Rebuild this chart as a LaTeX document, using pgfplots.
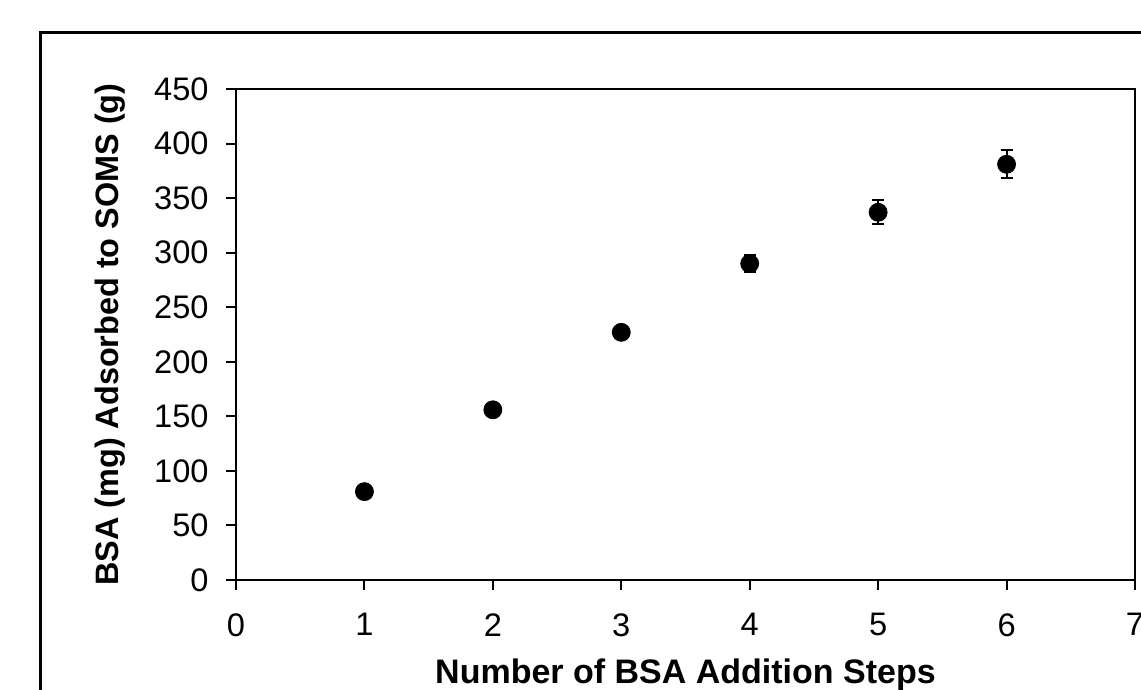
\documentclass[border=0pt]{standalone}
\usepackage{pgfplots}
\pgfplotsset{compat=1.18}
\usepackage{fontspec}
\setmainfont{Liberation Sans}
\begin{document}
\begin{tikzpicture}
\path[use as bounding box] (0pt,0pt) rectangle (570.5pt,-345pt);
\draw[line width=1.5pt] (20pt,-16.5pt) rectangle (600pt,-380pt);
\begin{axis}[
  at={(118pt,-290pt)}, anchor=south west,
  scale only axis, width=449.5pt, height=245.5pt,
  xmin=0, xmax=7, ymin=0, ymax=450,
  xtick={0,1,...,7}, ytick={0,50,...,450},
  axis line style={line width=1pt},
  major tick style={line width=1pt, black},
  major tick length=5pt,
  tick align=outside, xtick pos=bottom, ytick pos=left,
  /pgf/number format/assume math mode=true,
  ticklabel style={font=\fontsize{16.3}{18}\selectfont, inner sep=0pt},
  xticklabel style={anchor=north, yshift=-11.5pt},
  yticklabel style={anchor=east, xshift=-8.5pt},
  xlabel={Number of BSA Addition Steps},
  ylabel={BSA (mg) Adsorbed to SOMS (g)},
  xlabel style={font=\bfseries\fontsize{17}{19}\selectfont, at={(axis description cs:0.5,-0.1935)}, anchor=center},
  ylabel style={font=\bfseries\fontsize{16.2}{18}\selectfont, at={(axis description cs:-0.140,0.5)}, anchor=center},
]
\addplot[only marks, mark=*, mark size=4.5pt, black,
  error bars/.cd, y dir=both, y explicit,
  error bar style={line width=1pt, black},
  error mark options={rotate=90, mark size=3pt, line width=1pt, black}]
  coordinates {
  (1,81) +- (0,2)
  (2,156) +- (0,2)
  (3,227) +- (0,3)
  (4,290) +- (0,8)
  (5,337) +- (0,11)
  (6,381) +- (0,13)
};
\end{axis}
\end{tikzpicture}
\end{document}
